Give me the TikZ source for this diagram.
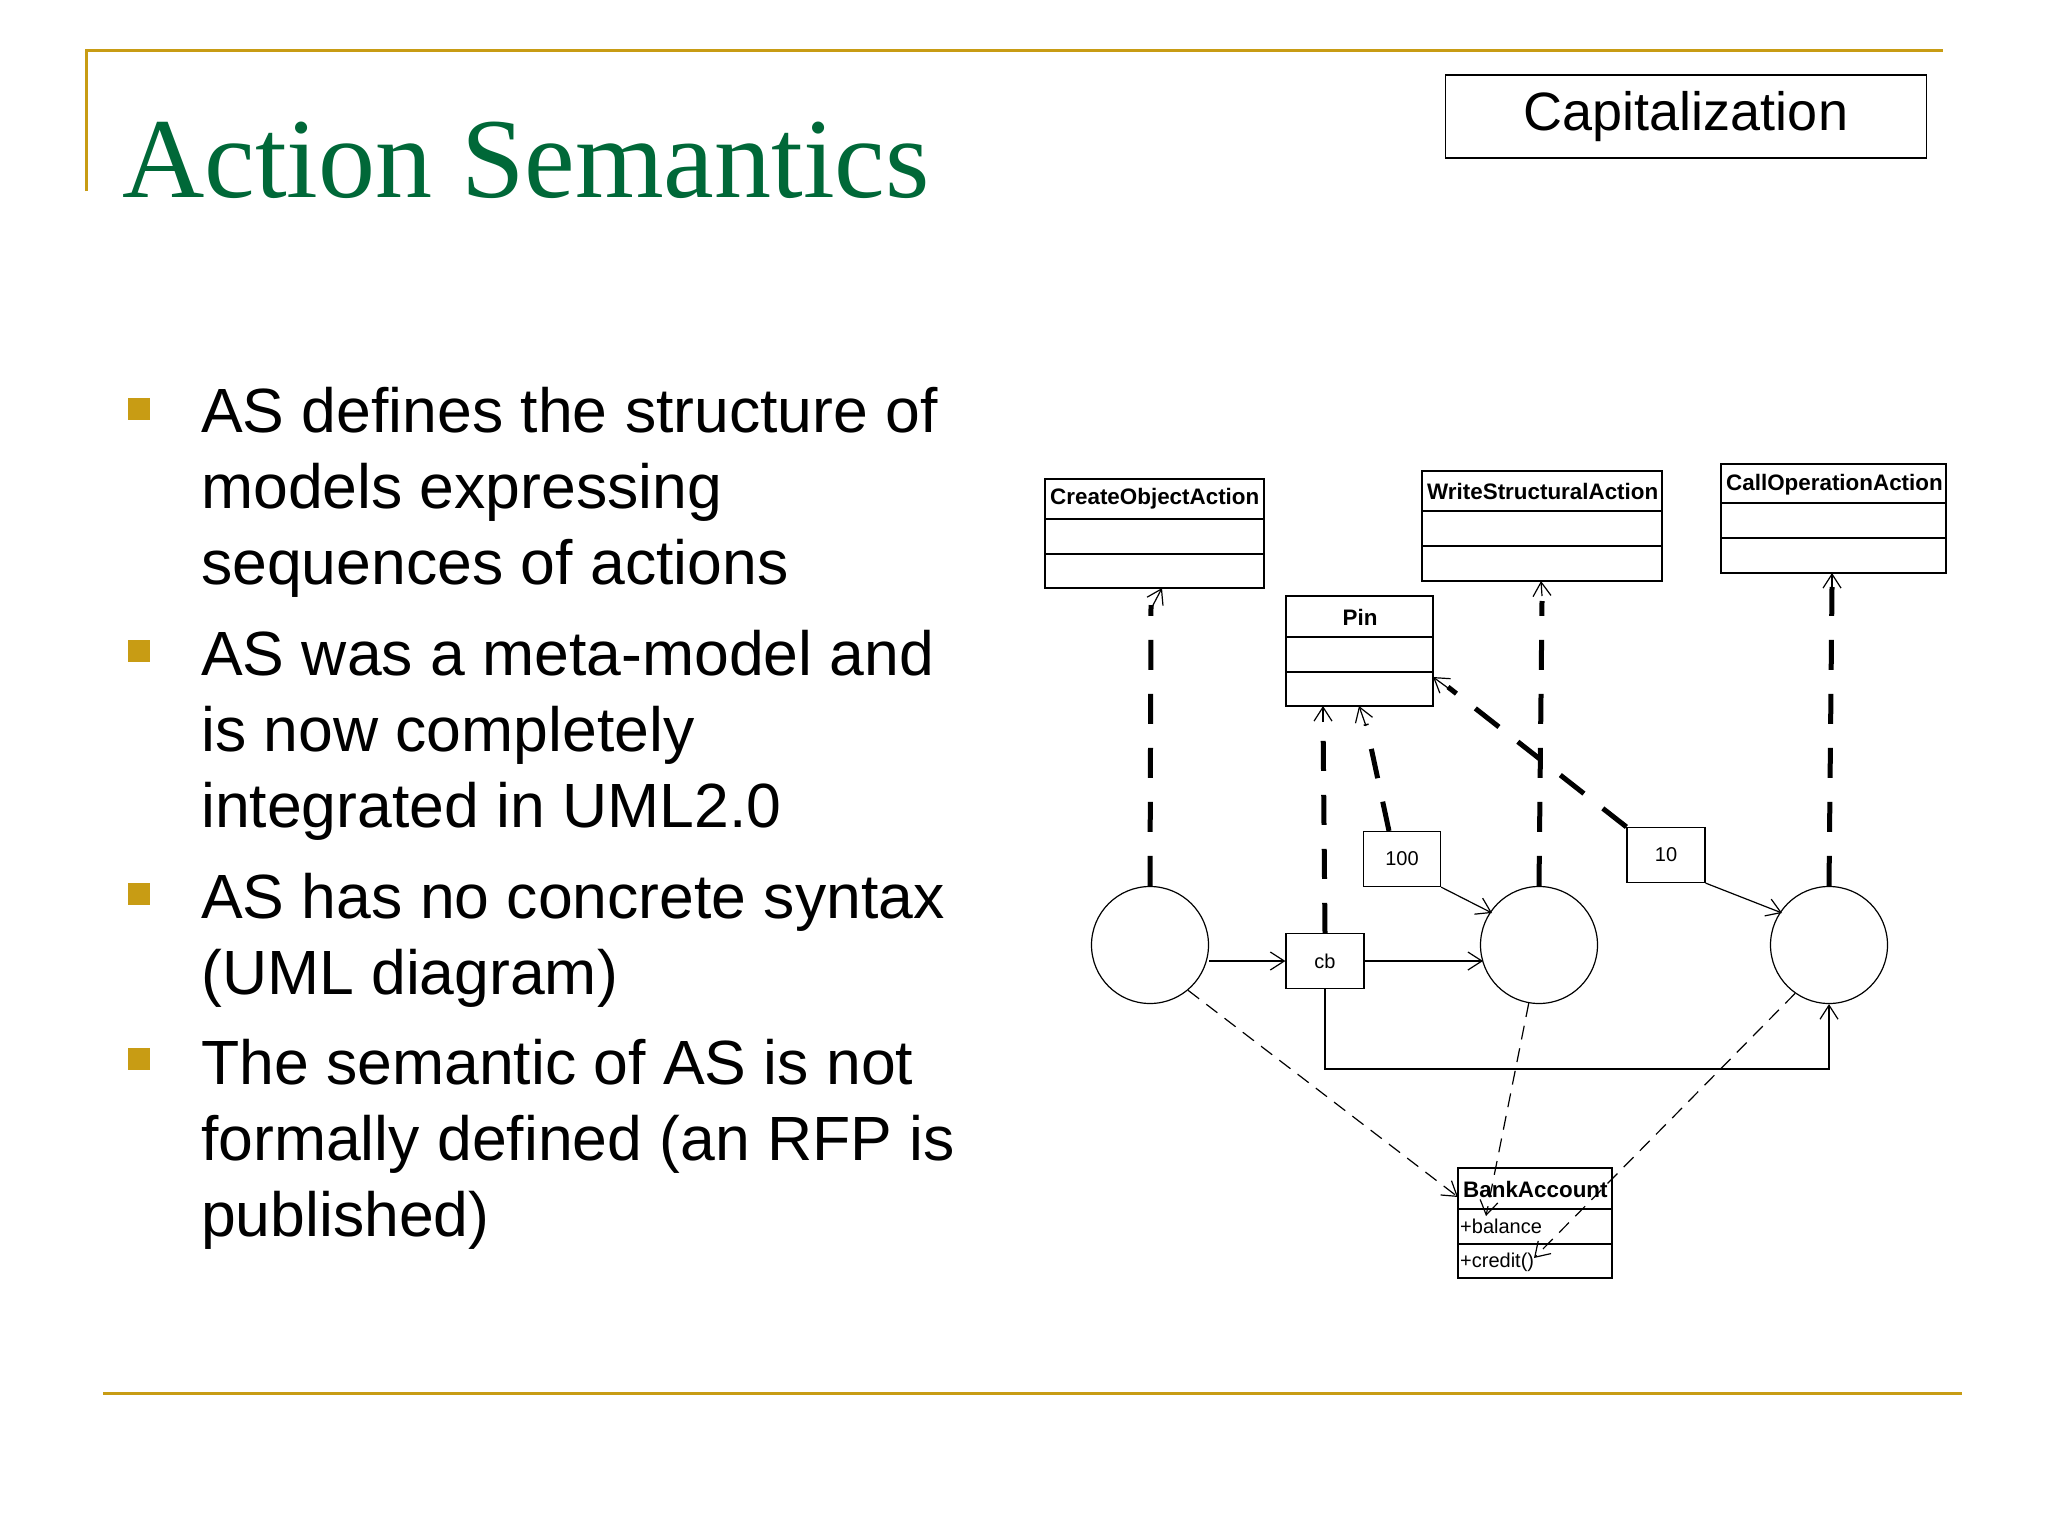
\documentclass[tikz,border=0pt]{standalone}
\usepackage{fontspec}
\setmainfont{Liberation Sans}
\newfontfamily\titlefont{Liberation Serif}
\usetikzlibrary{arrows.meta,shapes.geometric}
\definecolor{gold}{RGB}{200,156,20}
\definecolor{titlegreen}{RGB}{0,104,56}
\tikzset{
  cls/.style={draw,line width=1.2pt},
  thickdash/.style={line width=5pt,dash pattern=on 30pt off 24pt},
  opena/.style={-{Straight Barb[length=14pt,width=18pt,line width=1.2pt]}},
  thin/.style={line width=1.2pt},
  lbl/.style={font=\fontsize{20}{22}\selectfont,inner sep=0},
  blbl/.style={font=\fontsize{22.4}{24}\selectfont\bfseries,inner sep=0},
  bul/.style={anchor=base west,inner sep=0,font=\fontsize{62.5}{70}\selectfont},
  sq/.style={fill=gold,minimum size=22pt,inner sep=0},
  act/.style={draw,thin,circle,minimum size=117pt,inner sep=0}
}
\begin{document}
\begin{tikzpicture}[x=1pt,y=-1pt]
\useasboundingbox (0,0) rectangle (2048,1536);
% frame lines
\draw[gold,line width=3pt] (86,191) -- (86,51) -- (1943,51);
\draw[gold,line width=3pt] (103,1393) -- (1962,1393);
\node[anchor=base west,inner sep=0,text=titlegreen,font=\titlefont\fontsize{114}{130}\selectfont] (title) at (122,197) {Action Semantics};
\node[draw,line width=1.5pt,minimum width=481pt,minimum height=83pt,inner sep=0,font=\fontsize{54}{60}\selectfont] (cap) at (1686,116.5) {Capitalization};
% bullets
\node[sq] (s1) at (139,409) {};
\node[sq] (s2) at (139,651) {};
\node[sq] (s3) at (139,894) {};
\node[sq] (s4) at (139,1059) {};
\node[bul] (t1a) at (201,432) {AS defines the structure of};
\node[bul] (t1b) at (201,508) {models expressing};
\node[bul] (t1c) at (201,584) {sequences of actions};
\node[bul] (t2a) at (201,675) {AS was a meta-model and};
\node[bul] (t2b) at (201,751) {is now completely};
\node[bul] (t2c) at (201,827) {integrated in UML2.0};
\node[bul] (t3a) at (201,918) {AS has no concrete syntax};
\node[bul] (t3b) at (201,994) {(UML diagram)};
\node[bul] (t4a) at (201,1084) {The semantic of AS is not};
\node[bul] (t4b) at (201,1160) {formally defined (an RFP is};
\node[bul] (t4c) at (201,1236) {published)};
% classes
\draw[cls] (1045,479) rectangle (1264,588); \draw[cls] (1045,519) -- (1264,519) (1045,554) -- (1264,554);
\node[blbl,anchor=west] (coa) at (1050,499) {CreateObjectAction};
\coordinate (coaB) at (1162,588);
\draw[cls] (1422,471) rectangle (1662,581); \draw[cls] (1422,511) -- (1662,511) (1422,546) -- (1662,546);
\node[blbl,anchor=west] (wsa) at (1427,491) {WriteStructuralAction};
\coordinate (wsaB) at (1541,581);
\draw[cls] (1721,464) rectangle (1946,573); \draw[cls] (1721,503) -- (1946,503) (1721,538) -- (1946,538);
\node[blbl,anchor=west] (cop) at (1726,485) {CallOperationAction};
\coordinate (copB) at (1832,573);
\draw[cls] (1286,596) rectangle (1433,706); \draw[cls] (1286,637) -- (1433,637) (1286,672) -- (1433,672);
\node[blbl] (pin) at (1360,617) {Pin};
\coordinate (pinB1) at (1323,706); \coordinate (pinB2) at (1359,706); \coordinate (pinR) at (1433,677);
\draw[cls] (1458,1168) rectangle (1612,1278); \draw[cls] (1458,1209) -- (1612,1209) (1458,1244) -- (1612,1244);
\node[blbl,anchor=west] (ba) at (1463,1189) {BankAccount};
\node[lbl,anchor=west] (bal) at (1460,1226) {+balance};
\node[lbl,anchor=west] (cre) at (1460,1262) {+credit()};
% actions
\node[act] (c1) at (1150,945) {};
\node[act] (c2) at (1539,945) {};
\node[act] (c3) at (1829,945) {};
\node[draw,thin,lbl,minimum width=78pt,minimum height=55pt] (cb) at (1325,961) {cb};
\node[draw,thin,lbl,minimum width=77pt,minimum height=55pt] (v100) at (1402,859) {100};
\node[draw,thin,lbl,minimum width=78pt,minimum height=55pt] (v10) at (1666,855) {10};
% thick dashed
\draw[thickdash] (c1.north) -- (1151,605);
\draw[thin,opena] (1151,609) -- (coaB);
\draw[thickdash] (cb.north) -- (1323,717);
\draw[thin,opena] (1323,722) -- (pinB1);
\draw[thickdash] (1389,831) -- (1366,724);
\draw[thin,opena] (1366,726) -- (pinB2);
\draw[thickdash] (v10.north west) -- (1448,687);
\draw[thin,opena] (1448,688) -- (pinR);
\draw[thickdash] (c2.north) -- (1542,601);
\draw[thin,opena] (1542,596) -- (wsaB);
\draw[thickdash] (c3.north) -- (1832,587);
\draw[thin,opena] (1832,588) -- (copB);
% thin arrows
\draw[thin,opena] (c1.east |- cb.west) -- (cb.west);
\draw[thin,opena] (cb.east) -- (1483,961);
\draw[thin,opena] (v100.south east) -- (1492,913);
\draw[thin,opena] (v10.south east) -- (1782,913);
\draw[thin,opena] (cb.south) -- (1325,1069) -- (1829,1069) -- (c3.south);
% thin dashed
\draw[thin,dash pattern=on 14pt off 9pt,opena] (c1.-50) -- (1458,1197);
\draw[thin,dash pattern=on 14pt off 9pt,opena] (c2.-100) -- (1486,1216);
\draw[thin,dash pattern=on 14pt off 9pt,opena] (c3.-125) -- (1534,1258);
\end{tikzpicture}
\end{document}
